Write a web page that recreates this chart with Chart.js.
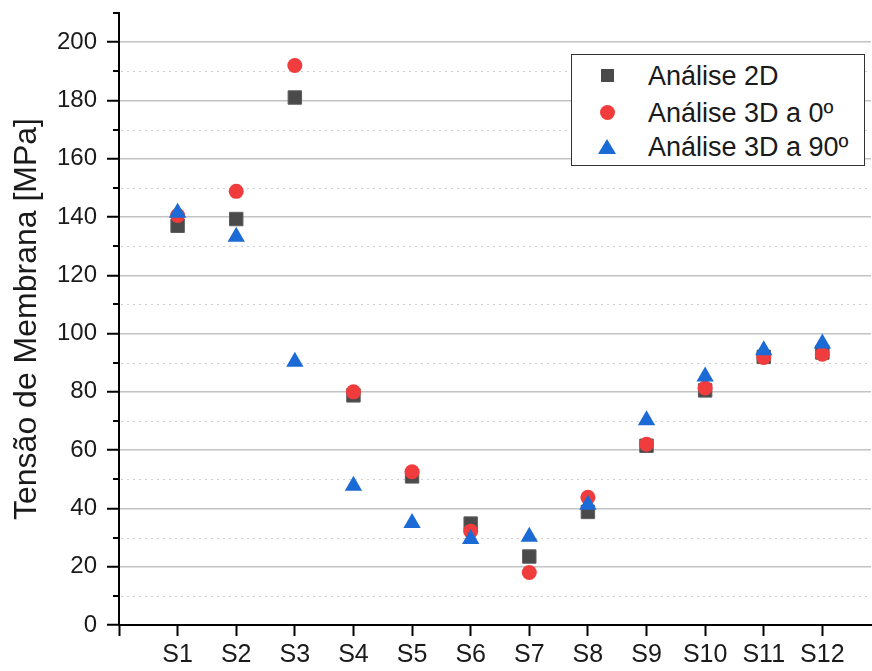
<!DOCTYPE html>
<html>
<head>
<meta charset="utf-8">
<script src="https://cdn.jsdelivr.net/npm/chart.js@4/dist/chart.umd.min.js"></script>
<style>
  body { margin: 0; background: #fff; }
  #wrap { position: relative; width: 872px; height: 671px; }
  #legenda {
    position: absolute; left: 571px; top: 54px; width: 294px; height: 112px;
    box-sizing: border-box; border: 1px solid #333; background: #fff;
    font-family: "Liberation Sans", Arial, sans-serif; font-size: 27px; color: #1a1a1a;
  }
  .item { position: absolute; left: 0; height: 30px; line-height: 30px; white-space: nowrap; }
  .item span { position: absolute; left: 76px; top: 0; }
  .mk { position: absolute; }
  .quad { width: 13px; height: 13px; background: #4a4a4a; left: 29px; top: 8px; }
  .circ { width: 15px; height: 15px; border-radius: 50%; background: #f03c3c; left: 28px; top: 7px; }
  .tri { width: 0; height: 0; border-left: 9px solid transparent; border-right: 9px solid transparent;
         border-bottom: 15px solid #1c6ad6; left: 26px; top: 7px; }
</style>
</head>
<body>
<div id="wrap">
  <canvas id="grafico" width="872" height="671"></canvas>
  <div id="legenda"></div>
</div>
<script>
// ------------ Dados ------------

const categorias = ["S1", "S2", "S3", "S4", "S5", "S6", "S7", "S8", "S9", "S10", "S11", "S12"];

// Análise 2D
const analise2D = [137, 139.3, 181, 78.8, 51, 34.8, 23.5, 38.8, 61.5, 80.5, 92, 93.5];
// Análise 3D a 0º
const analise3D0 = [140.5, 148.8, 192, 80, 52.6, 32.2, 18, 43.8, 62, 81.3, 91.8, 92.9];
// Análise 3D a 90º
const analise3D90 = [141.5, 133.2, 90.3, 47.8, 35, 29.5, 30.3, 41.3, 70.3, 85.3, 94.3, 96.6];

const nomesSeries = ["Análise 2D", "Análise 3D a 0º", "Análise 3D a 90º"];

const yMin = 0, yMax = 210, yPasso = 10, yPassoRotulo = 20;

// ------------ Legenda (HTML) ------------

const classesMarcador = ["quad", "circ", "tri"];
const topos = [60, 97, 131];
const leg = document.getElementById("legenda");
nomesSeries.forEach((nome, i) => {
  const d = document.createElement("div");
  d.className = "item";
  d.style.top = (topos[i] - 54) + "px";
  d.innerHTML = '<div class="mk ' + classesMarcador[i] + '"></div><span>' + nome + "</span>";
  leg.appendChild(d);
});

// ------------ Grade secundária pontilhada ------------

const gradeMenor = {
  id: "gradeMenor",
  beforeDatasetsDraw(chart) {
    const { ctx, chartArea, scales } = chart;
    const y = scales.y;
    ctx.save();
    ctx.strokeStyle = "#cfcfcf";
    ctx.lineWidth = 1.2;
    ctx.setLineDash([2, 4]);
    for (let v = yMin + yPasso; v < 200; v += yPassoRotulo) {
      const py = Math.round(y.getPixelForValue(v)) + 0.5;
      ctx.beginPath();
      ctx.moveTo(chartArea.left + 2, py);
      ctx.lineTo(chartArea.right, py);
      ctx.stroke();
    }
    ctx.setLineDash([]);
    ctx.strokeStyle = "#000";
    ctx.lineWidth = 2;
    for (let v = yMin + yPasso; v <= yMax; v += yPassoRotulo) {
      const py = Math.round(y.getPixelForValue(v));
      ctx.beginPath();
      ctx.moveTo(chartArea.left - 6, py);
      ctx.lineTo(chartArea.left, py);
      ctx.stroke();
    }
    ctx.restore();
  }
};

// ------------ Gráfico ------------

Chart.defaults.font.family = '"Liberation Sans", Arial, sans-serif';
Chart.defaults.color = "#1a1a1a";

const pontos = arr => arr.map((v, i) => ({ x: i + 1, y: v }));

new Chart(document.getElementById("grafico"), {
  type: "scatter",
  data: {
    datasets: [
      {
        label: nomesSeries[0], data: pontos(analise2D), order: 3,
        pointStyle: "rect", pointRadius: 9.5, pointHoverRadius: 9.5,
        backgroundColor: "#4a4a4a", borderColor: "#5c5c5c", borderWidth: 1
      },
      {
        label: nomesSeries[1], data: pontos(analise3D0), order: 2,
        pointStyle: "circle", pointRadius: 7.5, pointHoverRadius: 7.5,
        backgroundColor: "#f03c3c", borderColor: "#f03c3c", borderWidth: 0
      },
      {
        label: nomesSeries[2], data: pontos(analise3D90), order: 1,
        pointStyle: "triangle", pointRadius: 10, pointHoverRadius: 10,
        backgroundColor: "#1c6ad6", borderColor: "#1c6ad6", borderWidth: 0
      }
    ]
  },
  options: {
    responsive: false,
    animation: false,
    layout: { autoPadding: false, padding: { top: 13, right: 1, left: 0, bottom: 0 } },
    plugins: { legend: { display: false }, tooltip: { enabled: false } },
    scales: {
      x: {
        type: "linear",
        min: 0,
        max: 12.83,
        afterBuildTicks: s => { s.ticks = [0].concat(categorias.map((_, i) => i + 1)).map(v => ({ value: v })); },
        afterFit: s => { s.height = 46; s.paddingLeft = 0; s.paddingRight = 0; },
        grid: { drawOnChartArea: false, drawTicks: true, tickLength: 11, tickColor: "#000", tickWidth: 2 },
        border: { color: "#000", width: 2 },
        ticks: {
          autoSkip: false, maxRotation: 0, padding: 4,
          font: { size: 25 },
          callback: v => (v >= 1 ? categorias[v - 1] : "")
        }
      },
      y: {
        min: yMin,
        max: yMax,
        afterFit: s => { s.width = 119; s.paddingTop = 0; s.paddingBottom = 0; },
        grid: {
          color: c => (c.tick && c.tick.value % yPassoRotulo === 0 ? "#c3c3c3" : "rgba(0,0,0,0)"),
          lineWidth: 1.5,
          tickColor: c => (c.tick && c.tick.value % yPassoRotulo === 0 ? "#000" : "rgba(0,0,0,0)"),
          tickWidth: 2,
          tickLength: 12
        },
        border: { color: "#000", width: 2 },
        ticks: {
          stepSize: yPasso, autoSkip: false, padding: 10,
          font: { size: 24 },
          callback: v => (v % yPassoRotulo === 0 ? v : "")
        },
        title: {
          display: true,
          text: "Tensão de Membrana [MPa]",
          font: { size: 32 },
          padding: { top: 8, bottom: 0 }
        }
      }
    }
  },
  plugins: [gradeMenor]
});
</script>
</body>
</html>
